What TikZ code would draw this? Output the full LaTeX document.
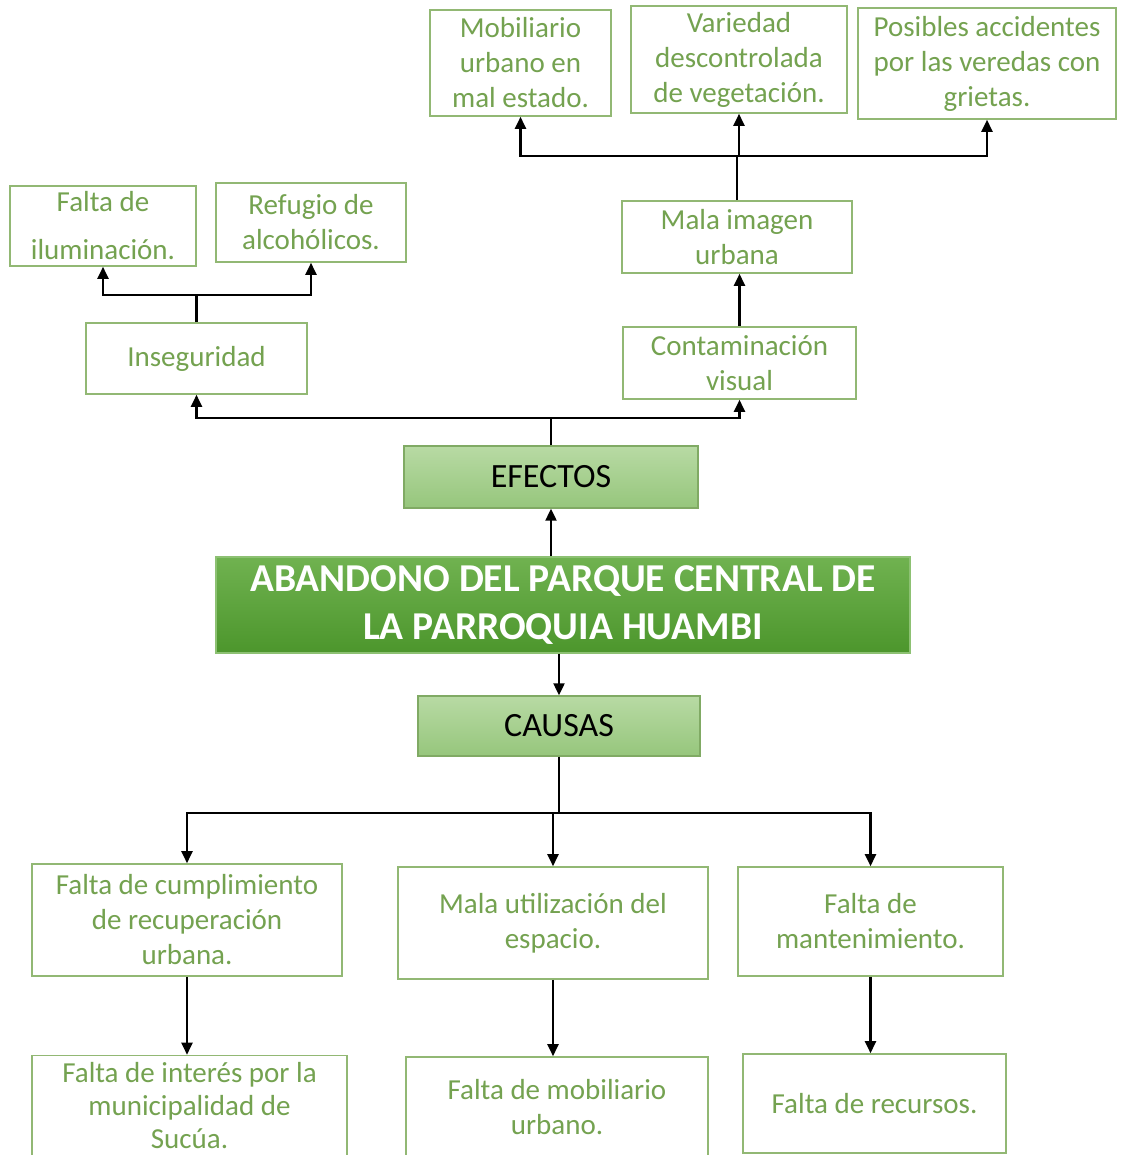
\documentclass[tikz,border=0pt]{standalone}
\usepackage{fontspec}
\setmainfont{Carlito}
\usetikzlibrary{arrows.meta,calc}
\definecolor{txtg}{RGB}{116,162,80}
\definecolor{brdg}{RGB}{146,184,116}
\definecolor{efa}{RGB}{184,218,164}
\definecolor{efb}{RGB}{150,198,124}
\definecolor{efbrd}{RGB}{128,170,100}
\definecolor{mna}{RGB}{112,178,80}
\definecolor{mnb}{RGB}{76,150,44}
\begin{document}
\begin{tikzpicture}[x=1pt,y=-1pt,
  box/.style={draw=brdg,line width=1.6pt,text=txtg,align=center,inner sep=0pt,
    font=\fontsize{29}{35}\selectfont},
  hdr/.style={draw=efbrd,line width=1.4pt,top color=efa,bottom color=efb,text=black,
    align=center,inner sep=0pt,font=\fontsize{34}{38}\selectfont},
  mainbox/.style={draw=mna!80!white,line width=1.4pt,top color=mna,bottom color=mnb,text=white,
    align=center,inner sep=0pt,font=\fontsize{39.5}{48}\selectfont\bfseries},
  conn/.style={line width=2.2pt,black},
  arr/.style={conn,-{Triangle[length=12pt,width=11pt]}}]
\clip (0,0) rectangle (1128,1155);
\fill[white] (0,0) rectangle (1128,1155);
% effects tree
\node[box,minimum width=181pt,minimum height=106pt] (mob) at (520.5,63) {Mobiliario\\urbano en\\mal estado.};
\node[box,minimum width=216pt,minimum height=107pt] (var) at (739,59.5) {Variedad\\descontrolada\\de vegetación.};
\node[box,minimum width=258pt,minimum height=111pt] (pos) at (987,63.5) {Posibles accidentes\\por las veredas con\\grietas.};
\node[box,minimum width=186pt,minimum height=80pt] (ilu) at (103,226) {Falta de\\[13pt]iluminación.};
\node[box,minimum width=190pt,minimum height=79pt] (ref) at (311,222.5) {Refugio de\\alcohólicos.};
\node[box,minimum width=230pt,minimum height=72pt] (mala) at (737,237) {Mala imagen\\urbana};
\node[box,minimum width=221pt,minimum height=71pt] (ins) at (196.5,358.5) {Inseguridad};
\node[box,minimum width=233pt,minimum height=72pt] (cont) at (739.5,363) {Contaminación\\visual};
\node[hdr,minimum width=294pt,minimum height=62pt] (efe) at (551,477) {EFECTOS};
\node[mainbox,minimum width=694pt,minimum height=96pt] (main) at (563,605) {ABANDONO DEL PARQUE CENTRAL DE\\LA PARROQUIA HUAMBI};
\node[hdr,minimum width=282pt,minimum height=60pt] (cau) at (559,726) {CAUSAS};
% causes
\node[box,minimum width=310pt,minimum height=112pt] (ca) at (187,920) {Falta de cumplimiento\\de recuperación\\urbana.};
\node[box,minimum width=310pt,minimum height=112pt] (cb) at (553,923) {Mala utilización del\\espacio.};
\node[box,minimum width=265pt,minimum height=109pt] (cc) at (870.5,921.5) {Falta de\\mantenimiento.};
\node[box,minimum width=315pt,minimum height=101pt,font=\fontsize{29}{33}\selectfont] (cd) at (189.5,1106) {Falta de interés por la\\municipalidad de\\Sucúa.};
\node[box,minimum width=302pt,minimum height=101pt] (ce) at (557,1107.5) {Falta de mobiliario\\urbano.};
\node[box,minimum width=263pt,minimum height=99pt] (cf) at (874.5,1103.5) {Falta de recursos.};
% connectors
\draw[conn] (ins.north) -- ++(0,-27) coordinate (j1);
\draw[arr] (j1) -| (ilu.south);
\draw[arr] (j1) -| (ref.south);
\draw[conn] (mala.north) -- ++(0,-44) coordinate (j2);
\draw[arr] (j2) -| (mob.south);
\draw[arr] (j2) -| (var.south);
\draw[arr] (j2) -| (pos.south);
\draw[arr] (cont.north) -- (cont.north |- mala.south);
\draw[conn] (efe.north) -- ++(0,-27) coordinate (j3);
\draw[arr] (j3) -| (ins.south);
\draw[arr] (j3) -| (cont.south);
\draw[arr] (main.north -| efe.south) -- (efe.south);
\draw[arr] (main.south -| cau.north) -- (cau.north);
\draw[conn] (cau.south) -- ++(0,56) coordinate (j4);
\draw[arr] (j4) -| (ca.north);
\draw[arr] (j4) -| (cb.north);
\draw[arr] (j4) -| (cc.north);
\draw[arr] (ca.south) -- (ca.south |- cd.north);
\draw[arr] (cb.south) -- (cb.south |- ce.north);
\draw[arr] (cc.south) -- (cc.south |- cf.north);
\end{tikzpicture}
\end{document}
